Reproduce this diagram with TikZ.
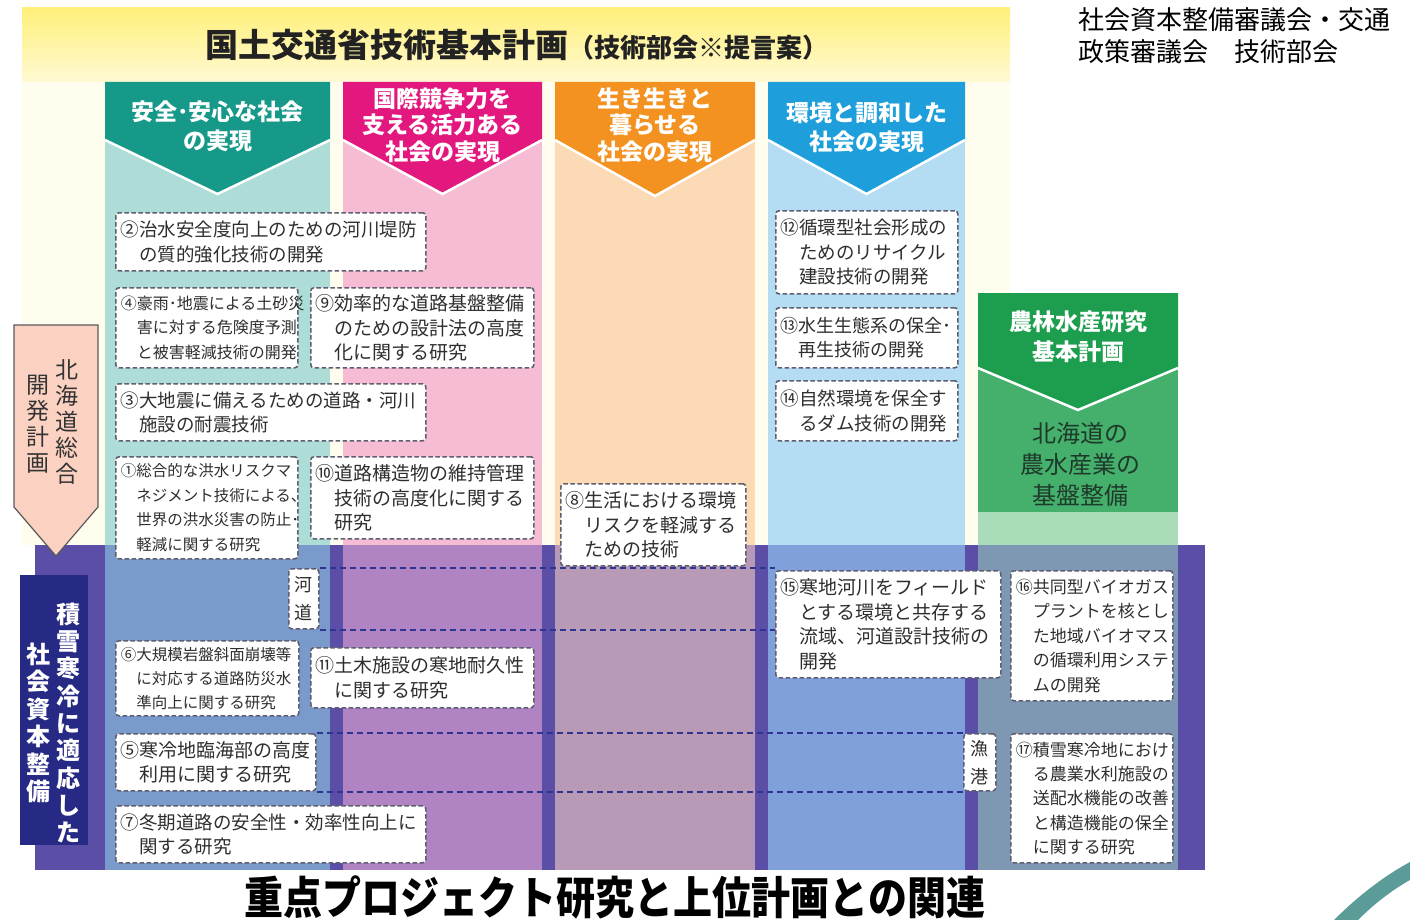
\documentclass[tikz,border=0pt]{standalone}
\usepackage{fontspec}
\usepackage{graphicx}
\newfontfamily\jp{Noto Sans CJK JP}
\newcommand\fs[2]{\fontsize{#1}{#2}\selectfont}
\newcommand\ii{\hspace*{1em}}
\definecolor{cream}{HTML}{FFFDEE}
\definecolor{yel}{HTML}{FFF07A}
\definecolor{yellight}{HTML}{FFF9D4}
\definecolor{tealH}{HTML}{17998A}
\definecolor{tealB}{HTML}{ADDDD6}
\definecolor{pinkH}{HTML}{E3187F}
\definecolor{pinkB}{HTML}{F6BCD3}
\definecolor{orH}{HTML}{F39221}
\definecolor{orB}{HTML}{FDDAB6}
\definecolor{blH}{HTML}{1E9FDB}
\definecolor{blB}{HTML}{B4DDF3}
\definecolor{grH}{HTML}{1D9E4E}
\definecolor{grB}{HTML}{45B06C}
\definecolor{grL}{HTML}{A9DCB8}
\definecolor{grText}{HTML}{1E3A2A}
\definecolor{bandD}{HTML}{5A4EA6}
\definecolor{bA}{HTML}{7A9ACB}
\definecolor{bB}{HTML}{B084C3}
\definecolor{bC}{HTML}{B89AB6}
\definecolor{bD}{HTML}{7FA0DA}
\definecolor{bE}{HTML}{7E98B3}
\definecolor{navy}{HTML}{262A84}
\definecolor{salmon}{HTML}{FBD2C2}
\definecolor{itmgray}{HTML}{5E5E70}
\definecolor{itmtext}{HTML}{2E2E2E}
\definecolor{bandline}{HTML}{2F3490}
\definecolor{swoosh}{HTML}{5C9C98}
\definecolor{ttl}{HTML}{222222}
\begin{document}
\begin{tikzpicture}[x=1pt,y=-1pt,
  itm/.style={draw=itmgray, fill=white, dash pattern=on 4.5pt off 2.5pt, line width=1.6pt,
    rounded corners=3pt, anchor=north west, align=left, inner xsep=5pt, inner ysep=0pt, text=itmtext},
  vbox/.style={draw=itmgray, fill=white, dash pattern=on 4.5pt off 2.5pt, line width=1.6pt,
    rounded corners=3pt, anchor=north west, align=center, inner sep=0pt, text=itmtext},
  hdr/.style={text=white, align=center, inner sep=0pt},
  bandln/.style={draw=bandline, dash pattern=on 6pt off 4pt, line width=2pt}]
\useasboundingbox (0,0) rectangle (1410,920);
\fill[white] (0,0) rectangle (1410,920);
% background
\fill[cream] (22,8) rectangle (1010,545);
\shade[top color=yel, bottom color=yellight] (22,8) rectangle (1010,82);
% column bodies
\fill[tealB] (105,140) rectangle (330,545);
\fill[pinkB] (343,140) rectangle (542,545);
\fill[orB] (555,140) rectangle (755,545);
\fill[blB] (768,140) rectangle (965,545);
\fill[grB] (978,368) rectangle (1178,512);
\fill[grL] (978,512) rectangle (1178,545);
% chevron headers
\fill[tealH] (105,82) -- (330,82) -- (330,140) -- (217.5,194) -- (105,140) -- cycle;
\draw[white, line width=2.5pt] (105,140) -- (217.5,194) -- (330,140);
\fill[pinkH] (343,82) -- (542,82) -- (542,140) -- (442.5,194) -- (343,140) -- cycle;
\draw[white, line width=2.5pt] (343,140) -- (442.5,194) -- (542,140);
\fill[orH] (555,82) -- (755,82) -- (755,140) -- (655,196) -- (555,140) -- cycle;
\draw[white, line width=2.5pt] (555,140) -- (655,196) -- (755,140);
\fill[blH] (768,82) -- (965,82) -- (965,140) -- (866.5,194) -- (768,140) -- cycle;
\draw[white, line width=2.5pt] (768,140) -- (866.5,194) -- (965,140);
\fill[grH] (978,293) -- (1178,293) -- (1178,368) -- (1078,410) -- (978,368) -- cycle;
\draw[white, line width=2.5pt] (978,368) -- (1078,410) -- (1178,368);
% bottom band
\fill[bandD] (35,545) rectangle (1205,870);
\fill[bA] (105,545) rectangle (330,870);
\fill[bB] (343,545) rectangle (542,870);
\fill[bC] (555,545) rectangle (755,870);
\fill[bD] (768,545) rectangle (965,870);
\fill[bE] (978,545) rectangle (1178,870);
% pink arrow
\draw[fill=salmon, draw=black!65, line width=1.2pt] (14,325) -- (98,325) -- (98,507) -- (56,556) -- (14,507) -- cycle;
\node[font=\jp\fs{23}{26}, align=center, text=black!80, inner sep=0pt] (hk1) at (67,422) {北\\海\\道\\総\\合};
\node[font=\jp\fs{23}{26}, align=center, text=black!80, inner sep=0pt] (hk2) at (38,424) {開\\発\\計\\画};
% navy box
\node[fill=navy, minimum width=68pt, minimum height=270pt, anchor=north west, inner sep=0pt] (navybox) at (20,575) {};
\node[font=\jp\bfseries\fs{24}{27.3}, align=center, text=white, inner sep=0pt] (sk1) at (68,723) {積\\雪\\寒\\冷\\に\\適\\応\\し\\た};
\node[font=\jp\bfseries\fs{24}{27.5}, align=center, text=white, inner sep=0pt] (sk2) at (39,723) {社\\会\\資\\本\\整\\備};
% titles
\node[font=\jp\bfseries, text=ttl, inner sep=0pt] (title) at (517,45) {\fs{33}{33}国土交通省技術基本計画\fs{26}{26}（技術部会※提言案）};
\node[anchor=north west, align=left, font=\jp\fs{26}{32}, inner sep=0pt] (org) at (1078,7) {社会資本整備審議会・交通\\政策審議会　技術部会};
\node[font=\jp\bfseries, inner sep=0pt] (btitle) at (615,897) {\scalebox{1}[1.15]{\fs{39}{39}重点プロジェクト研究と上位計画との関連}};
% header texts
\node[hdr, font=\jp\bfseries\fs{23}{29}] (h1) at (217.5,126) {安全･安心な社会\\の実現};
\node[hdr, font=\jp\bfseries\fs{23}{26.5}] (h2) at (442.5,125) {国際競争力を\\支える活力ある\\社会の実現};
\node[hdr, font=\jp\bfseries\fs{23}{26.5}] (h3) at (655,125) {生き生きと\\暮らせる\\社会の実現};
\node[hdr, font=\jp\bfseries\fs{23}{29}] (h4) at (866.5,127) {環境と調和した\\社会の実現};
\node[hdr, font=\jp\bfseries\fs{23}{30}] (h5) at (1078,337) {農林水産研究\\基本計画};
\node[font=\jp\fs{24}{31}, align=center, text=grText, inner sep=0pt] (g) at (1080,464) {北海道の\\農水産業の\\基盤整備};
% item boxes (top)
\node[itm, font=\jp\fs{18.5}{24.5}, text width=300pt, minimum height=58pt] (i2) at (115,212) {②治水安全度向上のための河川堤防\\\ii の質的強化技術の開発};
\node[itm, font=\jp\fs{16}{24.5}, text width=172pt, minimum height=80pt] (i4) at (115,287) {④豪雨･地震による土砂災\\\ii 害に対する危険度予測\\\ii と被害軽減技術の開発};
\node[itm, font=\jp\fs{19}{24.5}, text width=213pt, minimum height=80pt] (i9) at (310,287) {⑨効率的な道路基盤整備\\\ii のための設計法の高度\\\ii 化に関する研究};
\node[itm, font=\jp\fs{18.5}{24.5}, text width=300pt, minimum height=57pt] (i3) at (115,383) {③大地震に備えるための道路・河川\\\ii 施設の耐震技術};
\node[itm, font=\jp\fs{15.5}{24.5}, text width=172pt, minimum height=102pt] (i1) at (115,456) {①総合的な洪水リスクマ\\\ii ネジメント技術による、\\\ii 世界の洪水災害の防止･\\\ii 軽減に関する研究};
\node[itm, font=\jp\fs{19}{24.5}, text width=213pt, minimum height=82pt] (i10) at (310,456) {⑩道路構造物の維持管理\\\ii 技術の高度化に関する\\\ii 研究};
\node[itm, font=\jp\fs{19}{24.5}, text width=175pt, minimum height=82pt] (i8) at (560,483) {⑧生活における環境\\\ii リスクを軽減する\\\ii ための技術};
\node[itm, font=\jp\fs{18.5}{24.5}, text width=172pt, minimum height=83pt] (i12) at (775,210) {⑫循環型社会形成の\\\ii ためのリサイクル\\\ii 建設技術の開発};
\node[itm, font=\jp\fs{18}{24.5}, text width=172pt, minimum height=60pt] (i13) at (775,307) {⑬水生生態系の保全･\\\ii 再生技術の開発};
\node[itm, font=\jp\fs{18.5}{24.5}, text width=172pt, minimum height=60pt] (i14) at (775,380) {⑭自然環境を保全す\\\ii るダム技術の開発};
% item boxes (bottom band)
\node[vbox, font=\jp\fs{18}{28}, minimum width=30pt, minimum height=60pt] (kado) at (288,568) {河\\道};
\node[itm, font=\jp\fs{15.5}{24}, text width=173pt, minimum height=75pt] (i6) at (115,640) {⑥大規模岩盤斜面崩壊等\\\ii に対応する道路防災水\\\ii 準向上に関する研究};
\node[itm, font=\jp\fs{19}{24.5}, text width=213pt, minimum height=60pt] (i11) at (310,647) {⑪土木施設の寒地耐久性\\\ii に関する研究};
\node[itm, font=\jp\fs{19}{24.5}, text width=190pt, minimum height=57pt] (i5) at (115,733) {⑤寒冷地臨海部の高度\\\ii 利用に関する研究};
\node[itm, font=\jp\fs{18.5}{24.5}, text width=300pt, minimum height=57pt] (i7) at (115,805) {⑦冬期道路の安全性・効率性向上に\\\ii 関する研究};
\node[itm, font=\jp\fs{19}{24.5}, text width=216pt, minimum height=107pt, inner xsep=4.5pt] (i15) at (775,570) {⑮寒地河川をフィールド\\\ii とする環境と共存する\\\ii 流域、河道設計技術の\\\ii 開発};
\node[itm, font=\jp\fs{17}{24.5}, text width=152pt, minimum height=130pt] (i16) at (1010,570) {⑯共同型バイオガス\\\ii プラントを核とし\\\ii た地域バイオマス\\\ii の循環利用システ\\\ii ムの開発};
\node[vbox, font=\jp\fs{18}{28}, minimum width=32pt, minimum height=57pt] (gyoko) at (963,733) {漁\\港};
\node[itm, font=\jp\fs{17}{24.3}, text width=152pt, minimum height=129pt] (i17) at (1010,733) {⑰積雪寒冷地におけ\\\ii る農業水利施設の\\\ii 送配水機能の改善\\\ii と構造機能の保全\\\ii に関する研究};
% dashed connector lines
\draw[bandln] (kado.north east) -- (kado.north east -| i15.west);
\draw[bandln] (kado.south east) -- (kado.south east -| i15.west);
\draw[bandln] (i5.north east) -- (i5.north east -| gyoko.west);
\draw[bandln] (i5.south east) -- (i5.south east -| gyoko.west);
% corner swoosh
\fill[swoosh] (1334,920) .. controls (1358,896) and (1384,876) .. (1410,862) -- (1410,880) .. controls (1392,890) and (1374,904) .. (1358,920) -- cycle;
\end{tikzpicture}
\end{document}
